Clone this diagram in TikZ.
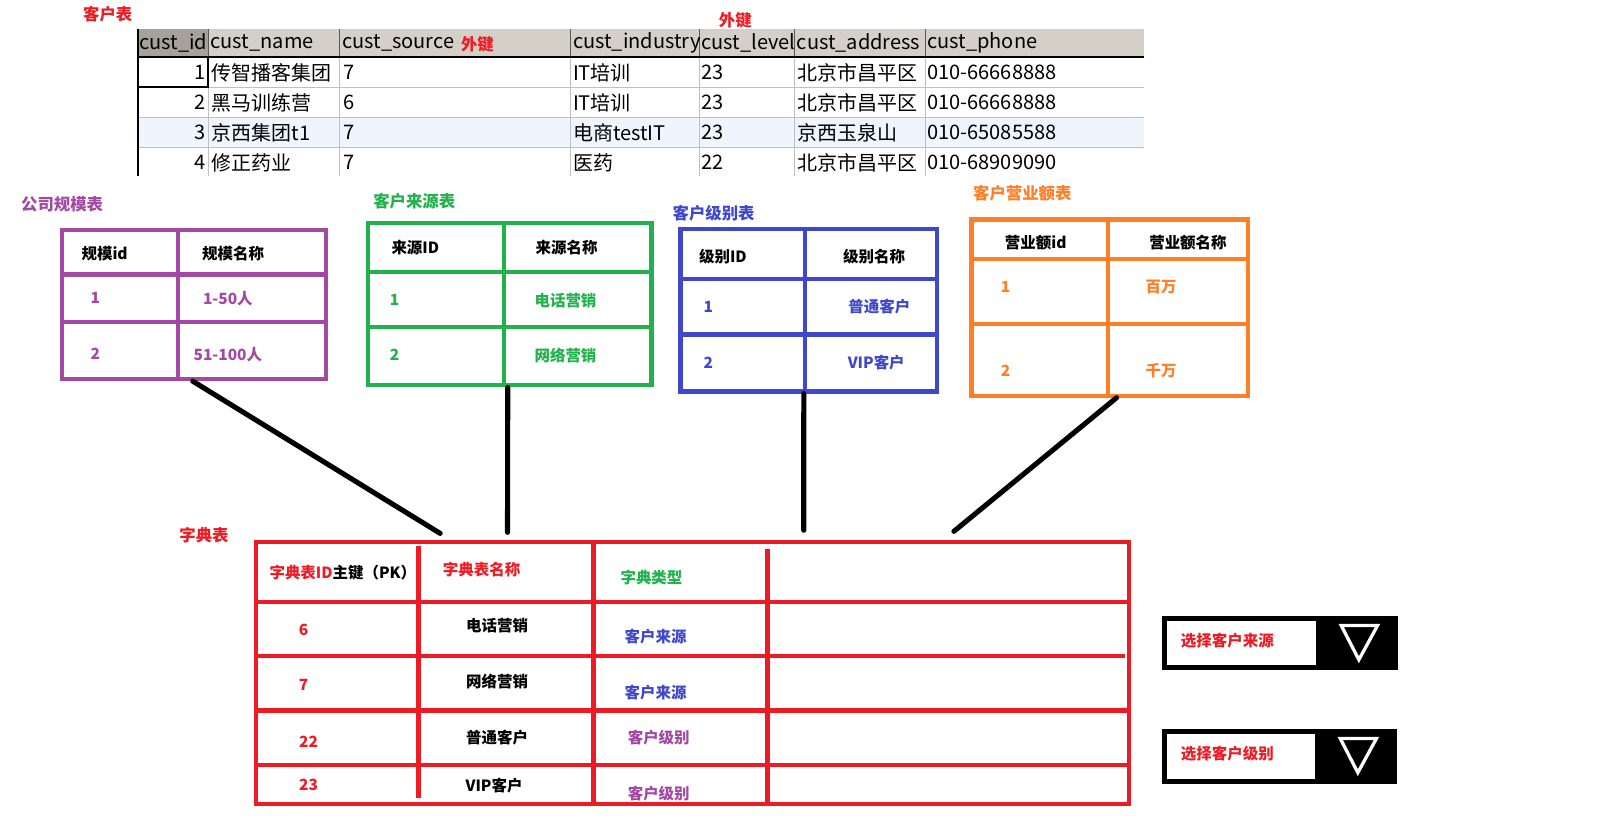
\documentclass[tikz,border=0pt]{standalone}
\usepackage{fontspec}
\setmainfont{Noto Sans CJK SC}
\usetikzlibrary{positioning,fit}
\definecolor{dictred}{HTML}{ED1C24}
\definecolor{sizepurple}{HTML}{A349A4}
\definecolor{srcgreen}{HTML}{22B14C}
\definecolor{lvlblue}{HTML}{3F48CC}
\definecolor{turnorange}{HTML}{FF7F27}
\definecolor{headgray}{HTML}{D4D0C8}
\definecolor{headdark}{HTML}{A6A29A}
\definecolor{rowblue}{HTML}{EEF5FD}
\definecolor{gridgray}{HTML}{C0C0C0}
\tikzset{
	x=0.02cm,
	y=-0.02cm
}

\begin{document}
\begin{tikzpicture}[
every node/.style = {
	font = \fontsize{8.5}{10}\selectfont\bfseries,
	inner sep = 0pt
},
title/.style = {
	font = \fontsize{9}{11}\selectfont\bfseries
},
cust/.style = {
	font = \fontsize{11}{13}\selectfont,
	anchor = west
},
frame/.style = {
	draw,
	line width = 2.3pt,
	inner sep = 0pt
},
grid/.style = {
	line width = 2.3pt
},
link/.style = {
	line width = 2.8pt,
	line cap = round
}
]

\useasboundingbox (0,0) rectangle (1568,805);

% customer table
\fill[headgray] (133,28) rectangle (1105,55);
\fill[headdark] (133,28) rectangle (201,55);
\fill[rowblue] (133,113) rectangle (1105,142);
\draw[gridgray] (133,84) -- (1105,84) (133,113) -- (1105,113) (133,142) -- (1105,142);
\draw[gridgray] (201,55) -- (201,170) (328,55) -- (328,170) (551,55) -- (551,170)
	(675,55) -- (675,170) (767,55) -- (767,170) (893,55) -- (893,170);
\draw[gray!70!black] (201,28) -- (201,55) (328,28) -- (328,55) (551,28) -- (551,55)
	(675,28) -- (675,55) (767,28) -- (767,55) (893,28) -- (893,55);
\draw[line width=1pt] (133,55) -- (1105,55);
\draw[line width=1.2pt] (133,28) -- (133,170);
\draw[line width=1pt] (133,55) rectangle (201,84);

\node (custtitle) [title, dictred] at (104,14) {客户表};
\node (fk1) [title, dictred] at (461,43) {外键};
\node (fk2) [title, dictred] at (710,20) {外键};

\node (hid) [cust] at (134,41) {cust\_id};
\node (hname) [cust] at (203,41) {cust\_name};
\node (hsource) [cust] at (330,41) {cust\_source};
\node (hindustry) [cust] at (553,41) {cust\_industry};
\node (hlevel) [cust] at (677,41) {cust\_level};
\node (haddress) [cust] at (769,41) {cust\_address};
\node (hphone) [cust] at (895,41) {cust\_phone};

\node (id1) [cust, anchor=east] at (199,70) {1};
\node (name1) [cust] at (204,70) {传智播客集团};
\node (src1) [cust] at (331,70) {7};
\node (ind1) [cust] at (553,70) {IT培训};
\node (lvl1) [cust] at (677,70) {23};
\node (addr1) [cust] at (770,70) {北京市昌平区};
\node (tel1) [cust] at (895,70) {010-66668888};

\node (id2) [cust, anchor=east] at (199,99) {2};
\node (name2) [cust] at (204,99) {黑马训练营};
\node (src2) [cust] at (331,99) {6};
\node (ind2) [cust] at (553,99) {IT培训};
\node (lvl2) [cust] at (677,99) {23};
\node (addr2) [cust] at (770,99) {北京市昌平区};
\node (tel2) [cust] at (895,99) {010-66668888};

\node (id3) [cust, anchor=east] at (199,128) {3};
\node (name3) [cust] at (204,128) {京西集团t1};
\node (src3) [cust] at (331,128) {7};
\node (ind3) [cust] at (553,128) {电商testIT};
\node (lvl3) [cust] at (677,128) {23};
\node (addr3) [cust] at (770,128) {京西玉泉山};
\node (tel3) [cust] at (895,128) {010-65085588};

\node (id4) [cust, anchor=east] at (199,157) {4};
\node (name4) [cust] at (204,157) {修正药业};
\node (src4) [cust] at (331,157) {7};
\node (ind4) [cust] at (553,157) {医药};
\node (lvl4) [cust] at (677,157) {22};
\node (addr4) [cust] at (770,157) {北京市昌平区};
\node (tel4) [cust] at (895,157) {010-68909090};

% company size
\node (sizetitle) [title, sizepurple] at (60,197) {公司规模表};
\node (sizetab) [frame, sizepurple, fit={(60,222) (315,366)}] {};
\draw[grid, sizepurple] (172,222) -- (172,366) (60,265) -- (315,265) (60,311) -- (315,311);
\node (sizehid) at (101,245) {规模id};
\node (sizehname) at (225,245) {规模名称};
\node (size1) [sizepurple] at (92,288) {1};
\node (size1name) [sizepurple] at (220,288) {1-50人};
\node (size2) [sizepurple] at (92,342) {2};
\node (size2name) [sizepurple] at (220,342) {51-100人};

% customer source
\node (srctitle) [title, srcgreen] at (400,194) {客户来源表};
\node (srctab) [frame, srcgreen, fit={(355,215) (629,372)}] {};
\draw[grid, srcgreen] (487,215) -- (487,372) (355,263) -- (629,263) (355,316) -- (629,316);
\node (srchid) at (401,239) {来源ID};
\node (srchname) at (547,239) {来源名称};
\node (src1id) [srcgreen] at (381,290) {1};
\node (src1name) [srcgreen] at (546,290) {电话营销};
\node (src2id) [srcgreen] at (381,343) {2};
\node (src2name) [srcgreen] at (546,343) {网络营销};

% customer level
\node (lvltitle) [title, lvlblue] at (689,206) {客户级别表};
\node (lvltab) [frame, lvlblue, fit={(657,221) (905,378)}] {};
\draw[grid, lvlblue] (777,221) -- (777,378) (657,269) -- (905,269) (657,323) -- (905,323);
\node (lvlhid) at (698,248) {级别ID};
\node (lvlhname) at (844,248) {级别名称};
\node (lvl1id) [lvlblue] at (684,296) {1};
\node (lvl1name) [lvlblue] at (849,296) {普通客户};
\node (lvl2id) [lvlblue] at (684,350) {2};
\node (lvl2name) [lvlblue] at (846,350) {VIP客户};

% turnover
\node (turntitle) [title, turnorange] at (987,187) {客户营业额表};
\node (turntab) [frame, turnorange, fit={(938,212) (1205,382)}] {};
\draw[grid, turnorange] (1070,212) -- (1070,382) (938,250) -- (1205,250) (938,313) -- (1205,313);
\node (turnhid) at (1000,234) {营业额id};
\node (turnhname) at (1147,234) {营业额名称};
\node (turn1id) [turnorange] at (971,277) {1};
\node (turn1name) [turnorange] at (1121,277) {百万};
\node (turn2id) [turnorange] at (971,358) {2};
\node (turn2name) [turnorange] at (1121,358) {千万};

% dictionary
\node (dicttitle) [title, dictred] at (197,517) {字典表};
\node (dict) [frame, dictred, fit={(247,523) (1090,776)}] {};
\draw[grid, dictred] (404,527) -- (404,770) (573,523) -- (573,776) (741,530) -- (741,776)
	(249,581) -- (1090,581) (249,633) -- (1086,633) (249,686) -- (1090,686) (249,739) -- (1090,739);
\node (dicthid) at (331,553) {\color{dictred}字典表ID\color{black}主键（PK）};
\node (dicthname) [dictred] at (465,550) {字典表名称};
\node (dicthtype) [srcgreen] at (629,558) {字典类型};

\node (d6) [dictred] at (293,608) {6};
\node (d6name) at (480,604) {电话营销};
\node (d6type) [lvlblue] at (633,615) {客户来源};
\node (d7) [dictred] at (293,661) {7};
\node (d7name) at (480,658) {网络营销};
\node (d7type) [lvlblue] at (633,669) {客户来源};
\node (d22) [dictred] at (298,716) {22};
\node (d22name) at (480,712) {普通客户};
\node (d22type) [sizepurple] at (636,712) {客户级别};
\node (d23) [dictred] at (298,758) {23};
\node (d23name) at (477,758) {VIP客户};
\node (d23type) [sizepurple] at (636,766) {客户级别};

% links into the dictionary
\coordinate (dictin1) at (425,515);
\coordinate (dictin2) at (490,514);
\coordinate (dictin3) at (776,512);
\coordinate (dictin4) at (921,513);
\draw[link] ([xshift=-0.8pt]sizetab.south) -- (dictin1);
\draw[link] ([xshift=-1pt]srctab.south) -- (dictin2);
\draw[link] ([xshift=-2.8pt]lvltab.south) -- (dictin3);
\draw[link] ([xshift=3.7pt]turntab.south) -- (dictin4);

% drop-down boxes
\fill[black] (1122,595) rectangle (1350,647);
\fill[white] (1127,600) rectangle (1271,642);
\node (pick1) [dictred] at (1185,619) {选择客户来源};
\draw[white, line width=1.8pt] (1295,604) -- (1330,604) -- (1312,637) -- cycle;

\fill[black] (1122,704) rectangle (1349,757);
\fill[white] (1127,709) rectangle (1270,752);
\node (pick2) [dictred] at (1185,728) {选择客户级别};
\draw[white, line width=1.8pt] (1294,713) -- (1329,713) -- (1311,746) -- cycle;

\end{tikzpicture}
\end{document}
